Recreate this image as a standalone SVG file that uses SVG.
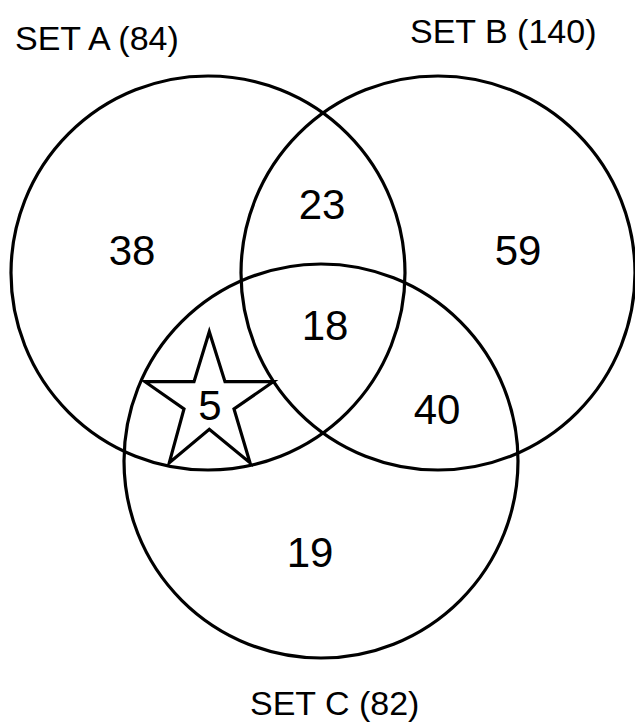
<svg xmlns="http://www.w3.org/2000/svg" width="635" height="724" viewBox="0 0 635 724">
<style>
.c{fill:none;stroke:#000;stroke-width:3.2}
.lbl{font-family:"Liberation Sans",Arial,sans-serif;font-size:34px;fill:#000}
.num{font-family:"Liberation Sans",Arial,sans-serif;font-size:42px;fill:#000;text-anchor:middle}
</style>
<rect width="635" height="724" fill="#fff"/>
<g id="setA">
<circle class="c" cx="208" cy="273" r="197"/>
<text class="lbl" x="15" y="50">SET A (84)</text>
</g>
<g id="setB">
<circle class="c" cx="438" cy="273" r="197"/>
<text class="lbl" x="410" y="43">SET B (140)</text>
</g>
<g id="setC">
<circle class="c" cx="321" cy="461" r="197"/>
<text class="lbl" x="250" y="715">SET C (82)</text>
</g>
<g id="star">
<polygon class="c" stroke-linejoin="miter" points="209.3,331.7 225,381.7 273.3,381.7 234,409 250,462.7 209.3,429.3 169.3,462.7 184,409 145,381.7 194,381.7"/>
</g>
<g id="counts">
<text class="num" x="132" y="265">38</text>
<text class="num" x="322" y="219">23</text>
<text class="num" x="518" y="265">59</text>
<text class="num" x="325" y="340">18</text>
<text class="num" x="437" y="424">40</text>
<text class="num" x="210" y="420">5</text>
<text class="num" x="310" y="567">19</text>
</g>
</svg>
